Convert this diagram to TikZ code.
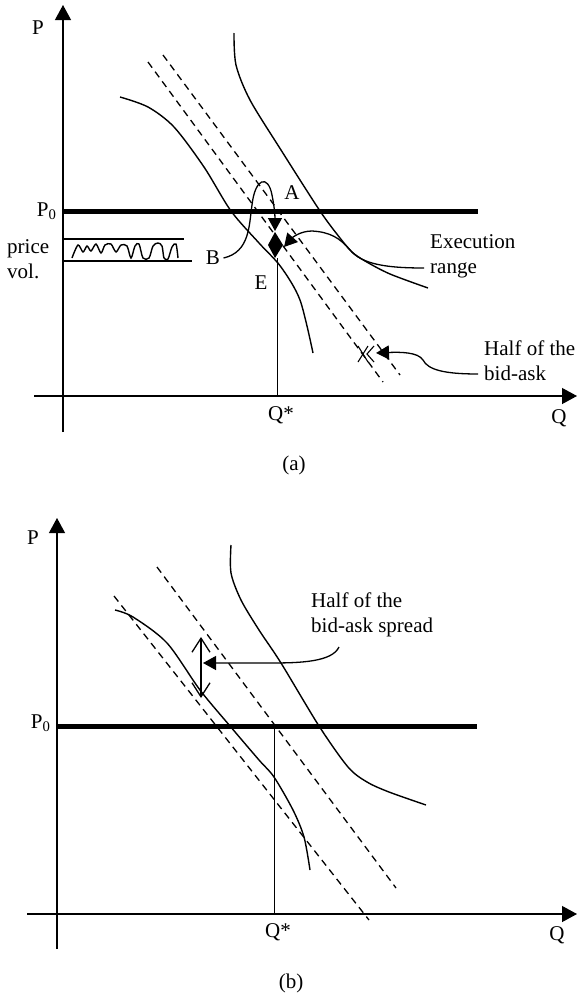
\documentclass[tikz,border=0pt]{standalone}
\usepackage{fontspec}
\setmainfont{Liberation Serif}
\usetikzlibrary{arrows.meta}

\begin{document}
\begin{tikzpicture}[
  x=1pt, y=-1pt,
  font=\fontsize{21}{25}\selectfont,
  axis/.style={line width=1.2pt, -{Triangle[length=15pt, width=16pt]}},
  curve/.style={line width=1.4pt},
  spread/.style={line width=1.3pt, dash pattern=on 7pt off 5pt},
  price/.style={line width=5pt},
  drop/.style={line width=1pt},
  lead/.style={line width=1.3pt, -{Triangle[length=13pt, width=14pt]}},
  band/.style={line width=1.1pt},
  lbl/.style={inner sep=0pt, align=left}
]
\useasboundingbox (0,0) rectangle (577,996);

% ---------- panel (a)
\draw[axis] (63,432) -- (63,5);
\draw[axis] (34,396) -- (577,396);
\node (Pa) at (38,28) {P};
\node (Qa) at (559,418) {Q};
\node[anchor=east] (P0a) at (60,211) {P\textsubscript{0}};
\node (Qstara) at (281,415) {Q*};
\node (capa) at (294,465) {(a)};

\draw[price] (63,211) -- (478,211);

% price volatility band
\node[lbl, anchor=west] (vol) at (7,259) {price\\vol.};
\draw[band] (63,239) -- (184,239);
\draw[band] (63,261) -- (192,261);
\draw[line width=1.4pt] plot[smooth, tension=0.5] coordinates {
  (72,258) (78,245) (83,252) (87,246) (91,251) (96,244) (101,253) (105,245)
  (111,244) (116,252) (121,245) (127,246) (131,258) (135,246) (139,244)
  (143,258) (149,258) (153,246) (158,243) (162,246) (164,258) (168,259)
  (172,247) (176,244) (178,258)};

% demand / supply curves
\draw[curve] plot[smooth] coordinates {
  (120,97) (148,107) (174,127) (204,167) (231,211) (259,243) (281,267) (300,300) (313,353)};
\draw[curve] plot[smooth] coordinates {
  (234,33) (236,65) (250,100) (281,150) (320,211) (340,238) (352,252) (365,261) (390,274) (428,288)};
\draw[spread] (148,62) -- (383,382);
\draw[spread] (163,55) -- (400,375);

\draw[drop] (277,258) -- (277,396);

\node (A) at (292,193) {A};
\node (B) at (213,258) {B};
\node (E) at (261,283) {E};

% execution point
\coordinate (arrA) at (275,231);
\fill (275,232) -- (283,245) -- (275,258) -- (268,245) -- cycle;
\draw[lead] (B.east) .. controls (250,252) and (249,225) .. (252,205)
  .. controls (255,178) and (268,174) .. (272,195)
  .. controls (274,205) and (275,214) .. (arrA);

\node[lbl, anchor=west] (Execution) at (430,256) {Execution\\range};
\coordinate (execStart) at (424,268);
\coordinate (execTip) at (284,247);
\draw[lead] (execStart) .. controls (385,268) and (362,264) .. (350,250)
  .. controls (340,238) and (330,232) .. (312,231)
  .. controls (300,231) and (292,238) .. (execTip);

\node[lbl, anchor=west] (HalfA) at (484,361) {Half of the\\bid-ask};
\coordinate (halfStart) at (478,374);
\coordinate (halfTip) at (376,353);
\draw[lead] (halfStart) .. controls (445,374) and (428,370) .. (423,360)
  .. controls (418,352) and (400,352) .. (halfTip);
\draw[band] (358,346) -- (368,362) (358,362) -- (368,346);
\draw[band] (374,346) -- (367,354) -- (374,362);

% ---------- panel (b)
\draw[axis] (57,949) -- (57,518);
\draw[axis] (27,914) -- (577,914);
\node (Pb) at (33,538) {P};
\node (Qb) at (557,935) {Q};
\node[anchor=east] (P0b) at (54,723) {P\textsubscript{0}};
\node (Qstarb) at (278,932) {Q*};
\node (capb) at (291,983) {(b)};

\draw[price] (57,726) -- (477,726);
\draw[drop] (274,726) -- (274,914);

\draw[curve] plot[smooth] coordinates {
  (231,545) (231,573) (241,600) (259,630) (281,663) (319,726) (348,767) (367,782) (389,792) (426,805)};
\draw[curve] plot[smooth] coordinates {
  (115,610) (133,617) (167,643) (200,690) (230,726) (259,760) (274,777) (293,810) (304,837) (310,870)};
\draw[spread] (114,596) -- (369,920);
\draw[spread] (157,567) -- (396,888);

\coordinate (spreadTop) at (201,637);
\coordinate (spreadBot) at (201,698);
\draw[line width=1.3pt, {Straight Barb[length=14pt, width=18pt]}-{Straight Barb[length=14pt, width=18pt]}]
  (spreadTop) -- (spreadBot);

\node[lbl, anchor=west] (HalfB) at (311,615) {Half of the\\bid-ask spread};
\coordinate (halfbStart) at (339,647);
\coordinate (halfbTip) at (203,663);
\draw[lead] (halfbStart) .. controls (332,662) and (300,663) .. (270,663) -- (halfbTip);
\end{tikzpicture}
\end{document}
